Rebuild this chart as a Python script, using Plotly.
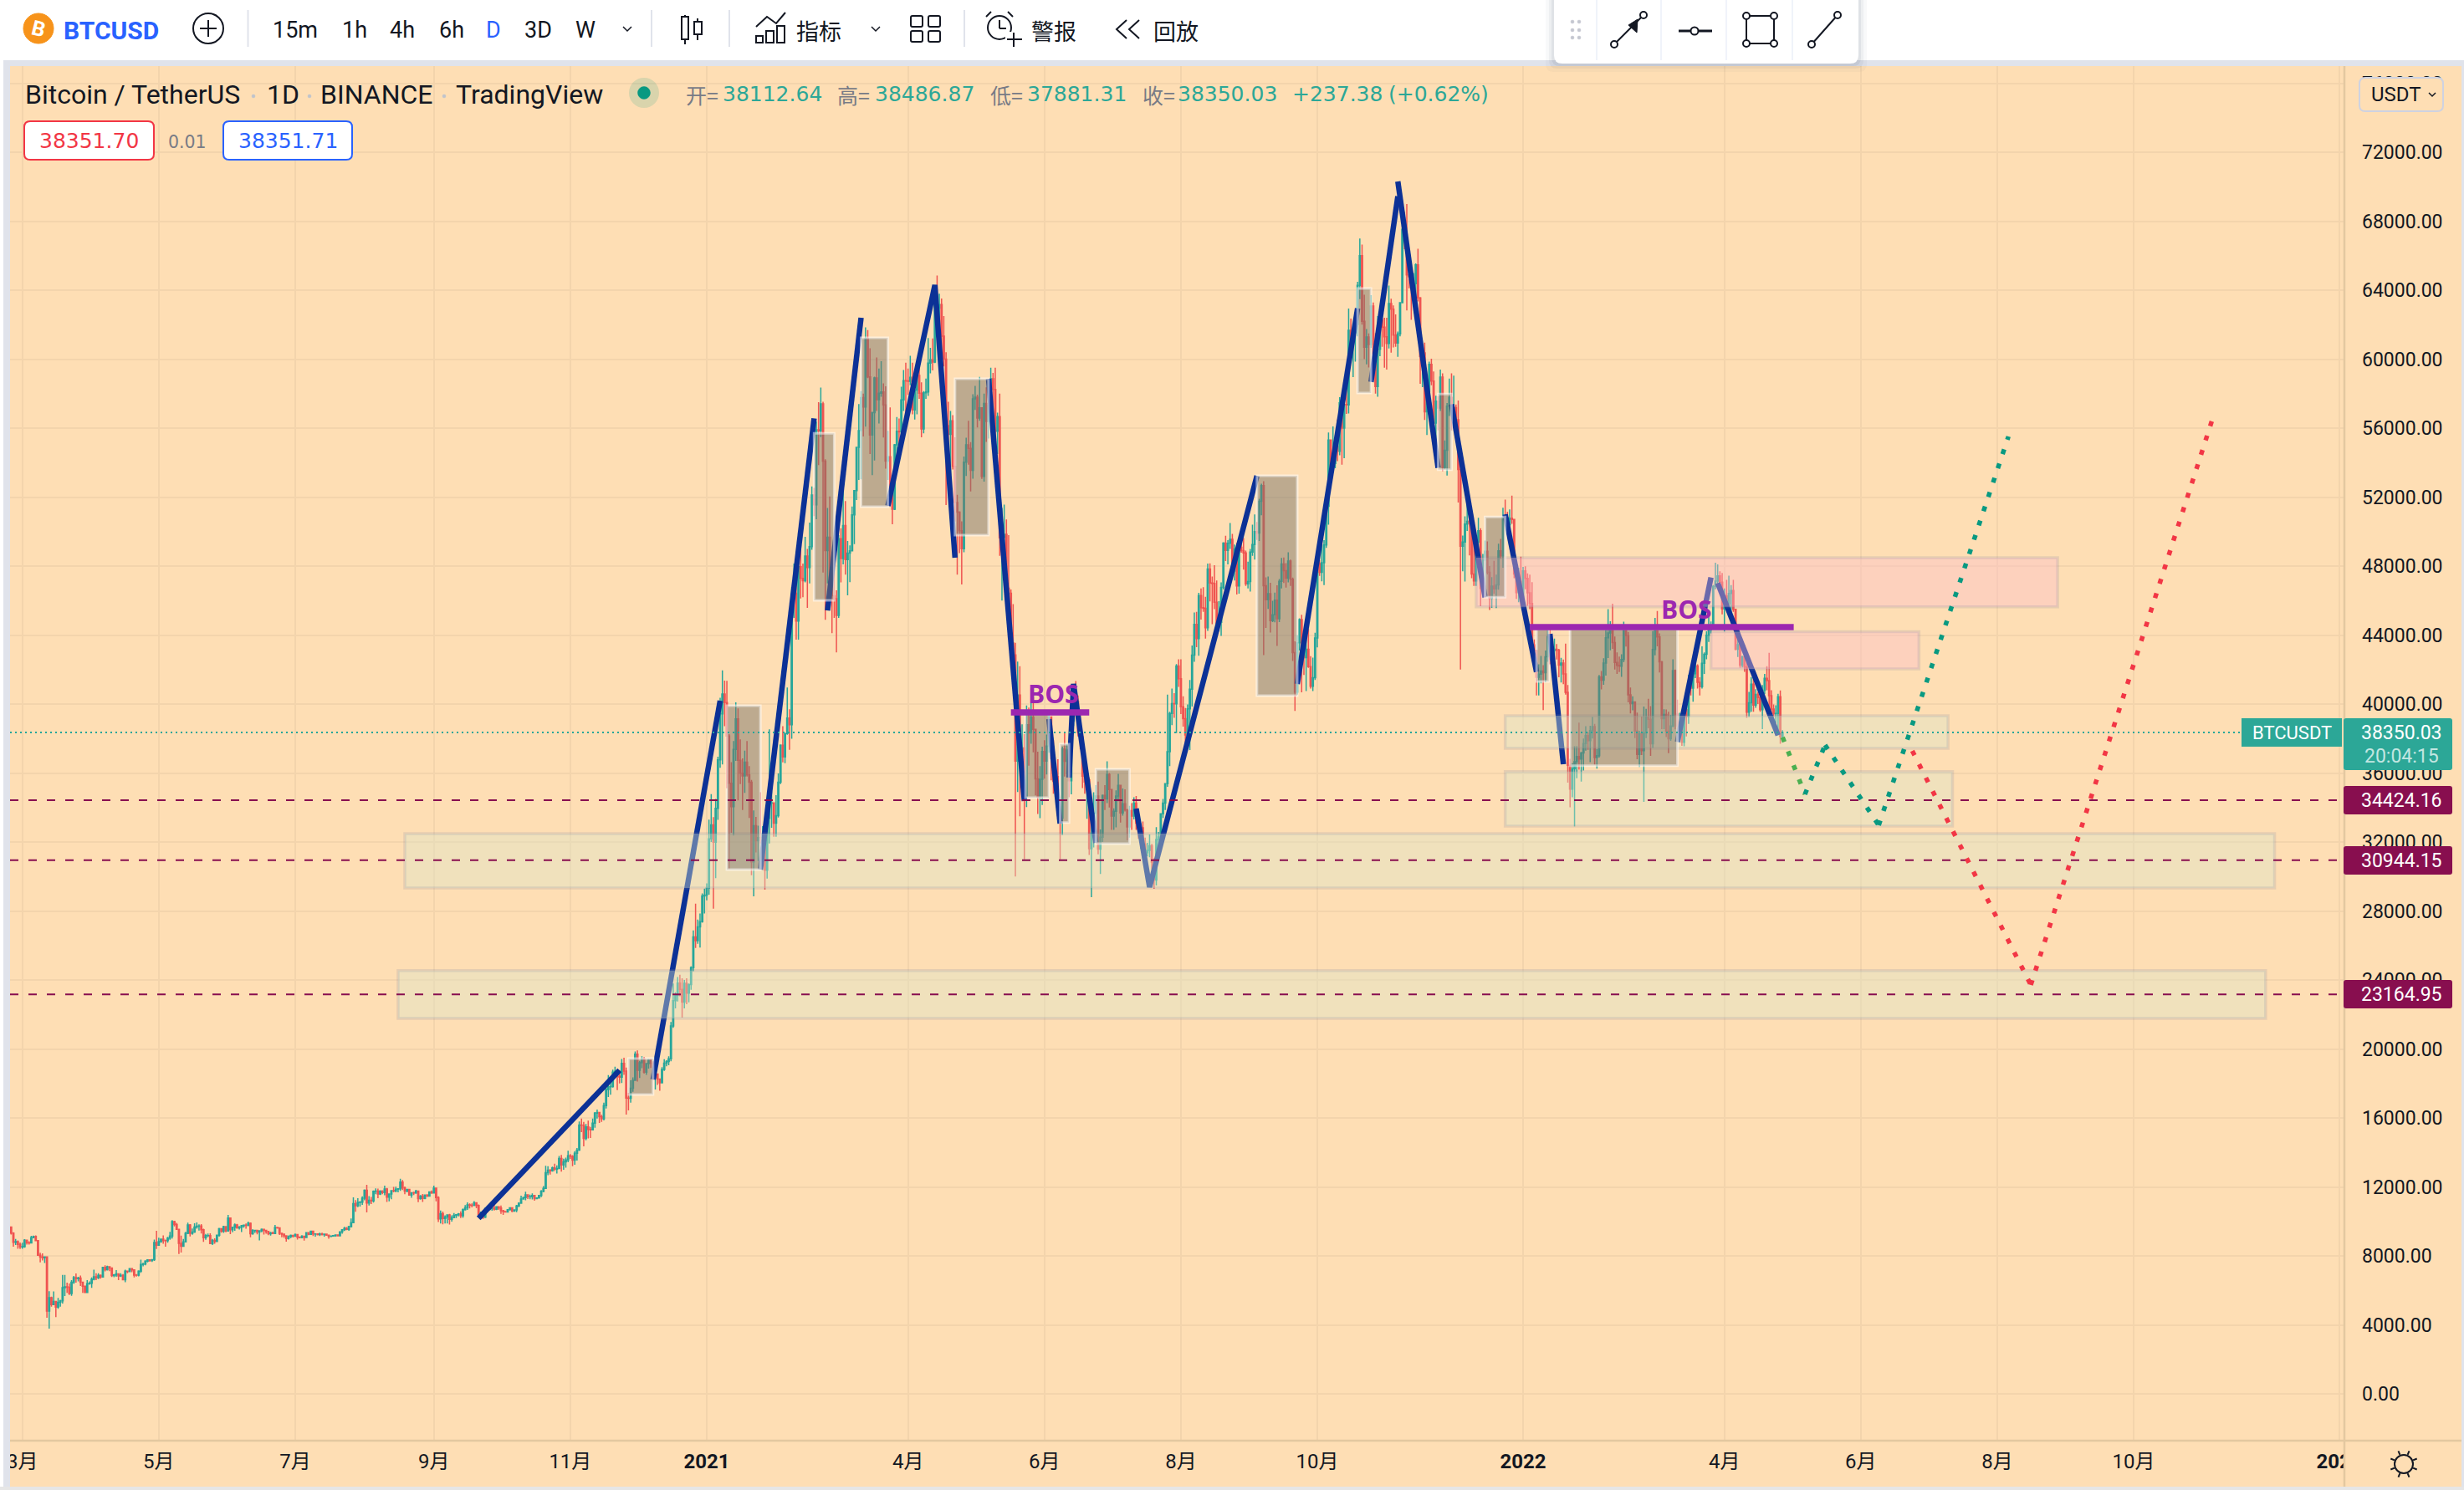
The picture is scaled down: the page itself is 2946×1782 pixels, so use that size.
import math
import pandas as pd
import plotly.graph_objects as go

W, H = 2946, 1782
first_day = "2020-02-25"
first_open = 9667

closes = [
    9316, 8785, 8824, 8672, 8523,
    8531, 8915, 8760, 8750, 9054, 9131, 8886, 8034, 7935, 7895, 7934, 4800, 5576, 5172, 5361, 5028, 5312, 5393, 6162, 6206, 6186, 5816, 6467, 6744, 6681, 6716, 6469, 6242, 5876, 6394, 6410,
    6642, 6794, 6733, 6868, 6772, 7339, 7201, 7370, 7298, 6865, 6893, 6959, 6838, 6870, 6623, 7116, 7096, 7257, 7189, 6881, 6880, 7118, 7500, 7539, 7694, 7774, 7738, 7780, 8775, 8620,
    8826, 8973, 8889, 8885, 9032, 9150, 9987, 9813, 9543, 8723, 8562, 8810, 9310, 9790, 9312, 9381, 9670, 9727, 9730, 9519, 9060, 9171, 9179, 8720, 8900, 8841, 9204, 9576, 9427, 9697, 9448,
    10200, 9518, 9666, 9789, 9621, 9666, 9746, 9782, 9772, 9885, 9280, 9465, 9474, 9386, 9454, 9538, 9480, 9411, 9288, 9332, 9303, 9648, 9629, 9313, 9264, 9162, 9012, 9116, 9192, 9138,
    9232, 9086, 9058, 9135, 9069, 9345, 9253, 9428, 9277, 9278, 9240, 9276, 9239, 9255, 9197, 9133, 9154, 9170, 9208, 9160, 9391, 9518, 9603, 9538, 9700, 9931, 11029, 10906, 11100, 11110, 11351,
    11801, 11071, 11219, 11191, 11744, 11762, 11594, 11754, 11675, 11878, 11410, 11584, 11780, 11768, 11865, 11892, 12280, 11945, 11754, 11853, 11531, 11662, 11648, 11753, 11318, 11461, 11330, 11527, 11465, 11711, 11650,
    11924, 11388, 10140, 10446, 10166, 10256, 10373, 10126, 10222, 10350, 10392, 10442, 10324, 10680, 10786, 10954, 10939, 10933, 11080, 10920, 10417, 10529, 10241, 10737, 10692, 10739, 10775, 10709, 10844, 10777,
    10619, 10570, 10550, 10673, 10788, 10599, 10668, 10902, 11055, 11296, 11384, 11540, 11425, 11429, 11505, 11322, 11360, 11503, 11750, 11910, 12823, 12965, 12931, 13108, 13031, 13068, 13654, 13272, 13456, 13560, 13804,
    13764, 13550, 13950, 14133, 15590, 15579, 14818, 15475, 15329, 15310, 15701, 16276, 16317, 16068, 15957, 16716, 17645, 17804, 17818, 18655, 18703, 18414, 18368, 19160, 18719, 17150, 17139, 17719, 18185, 19696,
    18764, 19204, 19421, 18650, 19147, 19359, 19166, 18324, 18541, 18254, 18036, 18808, 19175, 19273, 19427, 21335, 22797, 23107, 23821, 23455, 22719, 23810, 23232, 23729, 24712, 26493, 26281, 27079, 27385, 28875, 28923,
    29331, 32178, 33000, 31988, 33949, 36769, 39432, 40582, 40088, 38150, 35404, 34051, 37371, 39144, 36742, 35994, 35828, 36631, 35891, 35468, 30850, 32945, 32078, 32259, 32254, 32467, 30366, 33364, 34252, 34262, 33092,
    33526, 35466, 37618, 36936, 38290, 39186, 38795, 46374, 46420, 44807, 47969, 47287, 47153, 48577, 47911, 49133, 52119, 51552, 55906, 55841, 57408, 54087, 48892, 49676, 47073, 46276, 46106, 45135,
    49587, 48440, 50349, 48374, 48751, 48882, 50971, 52375, 54884, 55851, 57773, 57221, 61188, 58968, 55605, 56900, 58912, 57648, 58030, 58102, 57351, 54083, 54340, 52303, 51293, 55025, 55817, 55777, 57635, 58746, 58740,
    58720, 58950, 57059, 58206, 59054, 58020, 55947, 58048, 58102, 59774, 59964, 59834, 63577, 62959, 63159, 61334, 60006, 56150, 55633, 56425, 53787, 51690, 51125, 50047, 49004, 54021, 55033, 54824, 53555, 57697,
    57797, 56578, 57170, 53205, 57436, 56393, 57314, 58862, 58240, 55816, 56670, 49631, 49670, 49841, 46720, 46426, 43538, 42849, 36691, 40526, 37252, 37449, 34655, 38796, 38324, 39241, 38529, 35663, 34605, 35641, 37253,
    36693, 37568, 39246, 36829, 35513, 35796, 33552, 33380, 37388, 36675, 37331, 35546, 39020, 40516, 40144, 38349, 38092, 35820, 35483, 35600, 31608, 32509, 33678, 34663, 31584, 32283, 34700, 34494, 35911, 35045,
    33504, 33786, 34669, 35287, 33690, 34220, 33862, 32875, 33815, 33502, 34259, 33086, 32729, 32820, 31880, 31383, 31521, 31778, 30839, 29790, 32144, 32287, 33634, 34258, 35381, 37237, 39457, 40019, 40016, 42206, 41461,
    39845, 39147, 38207, 39723, 40862, 42836, 44614, 43792, 46285, 45593, 45555, 44428, 47834, 47013, 46998, 45901, 44686, 44741, 46763, 49339, 48905, 49321, 49546, 47707, 48993, 46852, 49089, 48895, 48767, 46970, 47100,
    48810, 49246, 49999, 49915, 51756, 52663, 46864, 46049, 46395, 44842, 45173, 46025, 44940, 47111, 48121, 47737, 47299, 48292, 47241, 42986, 40694, 43555, 44894, 42840, 42696, 43170, 42171, 41026, 41522, 43825,
    48141, 47635, 48200, 49224, 51471, 55315, 53785, 53951, 54950, 54660, 57471, 56005, 57367, 57347, 61672, 60875, 61528, 62009, 64280, 66001, 62193, 60688, 61286, 60852, 63078, 60328, 58413, 60575, 62253, 61859, 61300,
    60911, 63219, 62896, 61395, 60937, 61470, 63273, 67525, 66947, 64882, 64774, 64122, 64380, 65466, 63557, 60161, 60368, 56942, 58119, 59697, 58730, 56289, 57569, 57159, 58960, 53726, 54721, 57274, 57776, 56950,
    57184, 56480, 53602, 49152, 49396, 50441, 50588, 50471, 47545, 47140, 49389, 50053, 46702, 48343, 48864, 47632, 46131, 46834, 46681, 46914, 48890, 48588, 50819, 50807, 50399, 50775, 50701, 47543, 46464, 47120, 46216,
    47722, 47286, 46446, 45833, 43432, 43097, 41547, 41734, 41912, 41821, 42735, 43920, 42591, 43099, 43177, 43114, 42250, 42375, 41744, 40680, 36445, 35071, 36244, 36660, 36958, 36810, 37161, 37712, 38166, 37881, 38466,
    38694, 36896, 37005, 41571, 41382, 42380, 43840, 44118, 44339, 43565, 42407, 42244, 42197, 42586, 44575, 43961, 40538, 40030, 40122, 38431, 37075, 38286, 37296, 38328, 39219, 39116, 37700, 43160,
    44421, 43892, 42454, 39148, 39398, 38420, 37988, 38730, 41941, 39422, 38730, 38807, 37777, 39671, 39280, 41114, 40917, 41757, 42201, 41262, 41002, 42364, 42882, 43991, 44313, 44511, 46827, 47122, 47434, 47067, 45510,
    46283, 45811, 46407, 46580, 45497, 43170, 43445, 42252, 42753, 42158, 39530, 40074, 41147, 39942, 40552, 40378, 39678, 40801, 41494, 41358, 40480, 39709, 39441, 39450, 40426, 38112, 38350.03,
]
highs = [
    9700, 9369, 8978, 8900, 8780,
    8760, 8975, 8900, 8850, 9168, 9170, 9184, 8893, 8177, 8150, 7980, 7960, 5950, 5640, 5940, 5368, 5560, 5450, 6900, 6900, 6450, 6400, 6600, 6840, 6980, 6790, 6860, 6510, 6250, 6600, 6525,
    6750, 7200, 7000, 6990, 6920, 7370, 7460, 7427, 7380, 7315, 6950, 7180, 6950, 6990, 6940, 7200, 7150, 7300, 7260, 7230, 6940, 7160, 7780, 7600, 7740, 7800, 7800, 7790, 8950, 9460,
    9060, 9010, 9190, 8950, 9100, 9400, 10067, 10040, 9915, 9575, 9170, 8980, 9390, 9930, 9845, 9585, 9890, 9940, 9830, 9840, 9570, 9270, 9300, 9310, 8980, 9020, 9225, 9625, 9605, 9740, 9700,
    10380, 10228, 9690, 9881, 9858, 9735, 9800, 9800, 9880, 9990, 9938, 9555, 9495, 9480, 9495, 9590, 9540, 9490, 9460, 9400, 9405, 9790, 9686, 9665, 9340, 9290, 9200, 9190, 9238, 9200,
    9295, 9270, 9125, 9195, 9145, 9375, 9380, 9470, 9450, 9315, 9295, 9345, 9340, 9280, 9275, 9215, 9185, 9210, 9230, 9225, 9430, 9540, 9680, 9670, 9740, 10170, 11390, 11240, 11350, 11170, 11450,
    11860, 12120, 11470, 11420, 11790, 11910, 11900, 11810, 11810, 12070, 11945, 11630, 11800, 12000, 12010, 11930, 12470, 12400, 12020, 11880, 11880, 11690, 11720, 11825, 11770, 11530, 11590, 11550, 11570, 11720, 11790,
    12070, 11950, 11450, 10630, 10565, 10355, 10410, 10440, 10350, 10480, 10415, 10480, 10580, 10755, 10940, 11100, 11040, 11040, 11180, 11050, 10980, 10575, 10540, 10800, 10760, 10770, 10800, 10950, 10860, 10850,
    10920, 10670, 10590, 10700, 10800, 10800, 10680, 10955, 11105, 11490, 11425, 11720, 11560, 11550, 11630, 11540, 11400, 11525, 11820, 12050, 13220, 13200, 13030, 13170, 13345, 13250, 13790, 13860, 13640, 13700, 14100,
    13900, 13840, 14070, 14260, 15800, 15965, 15770, 15650, 15840, 15480, 15960, 16340, 16480, 16350, 16180, 16880, 17860, 18480, 18190, 18800, 18970, 18750, 18770, 19420, 19490, 18920, 17460, 18180, 18350, 19860,
    19920, 19310, 19570, 19540, 19180, 19420, 19420, 19290, 18630, 18560, 18290, 18950, 19410, 19350, 19570, 21560, 23800, 23280, 24170, 24300, 24100, 24000, 24100, 23800, 24790, 26870, 28420, 27500, 27850, 29020, 29300,
    29600, 33300, 34780, 33440, 34500, 36940, 40365, 41950, 41360, 41350, 38260, 36630, 37850, 40100, 39750, 37950, 36850, 37300, 37850, 36400, 35600, 33830, 33450, 32950, 34880, 32920, 32550, 33790, 38530, 34930, 34290,
    34720, 35980, 37660, 38710, 38310, 40955, 39700, 46790, 48145, 47310, 48680, 48985, 48150, 49700, 49000, 50525, 52620, 52530, 56370, 57500, 58350, 57530, 54200, 51370, 52040, 48370, 48400, 46600,
    49790, 50200, 52640, 51770, 49450, 49200, 51450, 52400, 54900, 57390, 58150, 58000, 61845, 61680, 60630, 56940, 58980, 60100, 59450, 59880, 58590, 58430, 55840, 57200, 53230, 55080, 56640, 56560, 58400, 59370, 59800,
    59460, 60200, 59790, 58490, 59250, 59500, 58650, 58150, 58870, 61220, 60650, 61200, 63770, 64854, 63800, 63520, 62500, 60400, 57530, 57000, 56750, 55470, 52130, 51170, 50590, 54350, 55440, 56430, 55190, 57960,
    58450, 57940, 58970, 57200, 58000, 58360, 58650, 59500, 59200, 59500, 56900, 58000, 51370, 51560, 50700, 49800, 46640, 45800, 43550, 42460, 42200, 38830, 38250, 39920, 39790, 40900, 40400, 38200, 37240, 36400, 37530,
    37900, 38230, 39480, 39290, 37900, 36490, 36800, 34070, 37530, 38400, 37680, 37450, 39380, 41060, 41330, 40500, 39560, 38200, 36480, 36140, 35750, 33300, 34880, 35300, 35500, 32730, 34750, 35300, 36680, 36000,
    35050, 33950, 35000, 35950, 35290, 35100, 35050, 33920, 34100, 34260, 34600, 34670, 33340, 33100, 33190, 32250, 31950, 32440, 31890, 31060, 32860, 32580, 33650, 34500, 35400, 40550, 39550, 40900, 40630, 42320, 42600,
    42600, 40450, 39770, 39970, 41400, 43390, 45310, 45350, 46450, 46700, 46780, 46220, 48140, 48160, 47400, 48050, 47160, 45960, 47050, 49380, 49760, 49500, 50500, 49870, 49250, 49340, 49180, 49650, 49630, 48900, 48250,
    49000, 50400, 51000, 50560, 51900, 52780, 52920, 47340, 47400, 47030, 45990, 46460, 46880, 47250, 48470, 48500, 48170, 48800, 48370, 47330, 43640, 44000, 44970, 45180, 42970, 43920, 44350, 42780, 42690, 44130,
    48500, 48340, 49230, 49500, 51890, 55750, 55340, 56100, 55450, 56500, 57800, 57680, 57700, 58550, 62930, 62350, 61720, 62700, 64490, 67000, 66640, 63730, 61750, 61490, 63710, 63290, 61500, 62500, 62960, 62370, 62400,
    62400, 64270, 63500, 63120, 62600, 61600, 63290, 67790, 68530, 69000, 65570, 65450, 65000, 65550, 66400, 63600, 60800, 60960, 58370, 59850, 60030, 59290, 57880, 57850, 59400, 59170, 55280, 57450, 58870, 59170,
    59040, 57370, 57600, 53870, 49770, 50880, 51950, 51200, 50800, 50080, 49480, 50800, 50200, 48700, 49480, 49430, 48000, 47360, 48300, 47500, 49300, 49570, 51380, 51860, 51150, 51280, 52090, 50700, 48130, 47900, 48550,
    47950, 47990, 47570, 47500, 47070, 43750, 43150, 42300, 42790, 42250, 43100, 44280, 44450, 43450, 43800, 43480, 43200, 42680, 42580, 43500, 41100, 36830, 36570, 37550, 37550, 38920, 37220, 38000, 38720, 38360, 38740,
    39250, 38850, 37390, 41690, 41910, 42660, 44500, 45500, 44800, 45820, 43920, 43000, 42750, 42880, 44770, 44580, 44180, 40960, 40450, 40150, 39500, 38450, 39270, 39850, 39720, 40300, 39880, 44230,
    45000, 45400, 44100, 42500, 39700, 39680, 39550, 39360, 42600, 42000, 40250, 39490, 39300, 39930, 39870, 41700, 41480, 42320, 42400, 42300, 41550, 43350, 43000, 44220, 45100, 44790, 46900, 48190, 48100, 47700, 47600,
    46700, 47200, 47440, 46900, 47200, 45500, 43900, 43970, 42800, 43420, 42420, 40700, 41560, 41500, 40860, 40700, 40600, 41100, 41750, 42200, 42970, 40800, 39980, 39930, 40600, 40790, 38486.87,
]
lows = [
    9240, 8535, 8625, 8416, 8400,
    8410, 8470, 8650, 8660, 8750, 9020, 8850, 8000, 7630, 7730, 7590, 4410, 3782, 5055, 5140, 4444, 4930, 5060, 5240, 5670, 5860, 5730, 5690, 6375, 6450, 6520, 6250, 5860, 5870, 5855, 6330,
    6150, 6580, 6600, 6660, 6680, 6770, 7100, 7150, 7110, 6780, 6760, 6790, 6600, 6780, 6600, 6470, 6990, 7050, 7050, 6750, 6800, 6810, 7020, 7390, 7450, 7620, 7660, 7650, 7710, 8400,
    8620, 8760, 8700, 8530, 8760, 8930, 9010, 9710, 9520, 8107, 8200, 8520, 8800, 9260, 9130, 9220, 9330, 9570, 9470, 9300, 8815, 8930, 9090, 8700, 8630, 8700, 8810, 9110, 9340, 9335, 9375,
    9417, 9266, 9365, 9450, 9580, 9525, 9380, 9640, 9570, 9725, 9075, 9230, 9330, 9245, 8900, 9370, 9240, 9280, 9200, 9170, 9280, 9288, 9570, 9210, 9080, 9040, 8830, 8940, 9030, 9065,
    9100, 8940, 9040, 9050, 8890, 9060, 9200, 9225, 9150, 9120, 9190, 9155, 9190, 9120, 9160, 9000, 9090, 9135, 9120, 9130, 9150, 9280, 9440, 9490, 9460, 9650, 9900, 10560, 10820, 10860, 10960,
    11220, 10520, 10925, 11010, 11090, 11580, 11350, 11525, 11570, 11515, 11125, 11160, 11280, 11680, 11685, 11690, 11770, 11820, 11570, 11680, 11500, 11375, 11525, 11595, 11115, 11260, 11130, 11280, 11420, 11455, 11600,
    11625, 11160, 9960, 9875, 9825, 9875, 9880, 9820, 9990, 10190, 10200, 10290, 10200, 10210, 10630, 10670, 10750, 10810, 10890, 10760, 10280, 10360, 10140, 10190, 10530, 10650, 10620, 10630, 10650, 10670,
    10440, 10370, 10520, 10525, 10630, 10530, 10565, 10530, 10830, 11050, 11280, 11220, 11300, 11280, 11270, 11200, 11280, 11340, 11410, 11690, 11890, 12680, 12720, 12880, 12920, 12780, 13060, 12890, 12990, 13120, 13430,
    13620, 13200, 13290, 13530, 14090, 15170, 14350, 14700, 14810, 14840, 15280, 15430, 15960, 15710, 15770, 15860, 16550, 17210, 17340, 17760, 18320, 17610, 18000, 18020, 18500, 16200, 16440, 16880, 17520, 18170,
    18110, 18320, 18890, 18570, 18500, 18860, 18900, 18200, 17650, 17910, 17570, 18020, 18730, 19000, 19050, 19290, 21230, 22350, 22750, 23060, 21820, 22350, 22600, 22700, 23430, 24500, 25860, 26100, 25880, 27320, 27850,
    28620, 28950, 32000, 28130, 29900, 33290, 36300, 36500, 38720, 35110, 30420, 32530, 32380, 36700, 34410, 35360, 33850, 34850, 35800, 33400, 30070, 28850, 31390, 30900, 31910, 30840, 29240, 29880, 31915, 32825, 32300,
    32300, 33420, 35360, 36620, 36570, 38220, 37350, 37990, 45000, 43730, 43730, 46125, 46200, 47050, 45570, 47000, 48950, 50900, 50710, 53860, 55480, 47620, 44890, 47000, 46670, 44110, 45000, 43000,
    45000, 47050, 48100, 47500, 46300, 47070, 48880, 49270, 51830, 53000, 53025, 55510, 56080, 58900, 54500, 53270, 54120, 57000, 56270, 57820, 55450, 53650, 53000, 51700, 50430, 51250, 53960, 54700, 54900, 57000, 56870,
    57930, 58480, 56800, 56500, 56800, 57700, 55470, 55700, 57700, 57870, 59170, 59350, 59770, 61300, 62020, 60000, 59580, 51540, 54220, 53300, 53600, 50580, 47500, 48750, 46930, 48800, 53220, 53880, 52330, 53070,
    57050, 56040, 56430, 53060, 52900, 55200, 55390, 56900, 56240, 54570, 54500, 48600, 46000, 48900, 46550, 43830, 42100, 42200, 30000, 34900, 33490, 35200, 31000, 34030, 36420, 37700, 37200, 34700, 33630, 33380, 34150,
    35670, 35920, 37170, 35570, 34800, 35230, 33340, 31000, 32400, 35800, 35940, 34600, 34760, 38730, 39500, 38120, 37365, 35130, 34800, 33350, 31250, 28805, 31680, 32280, 31280, 30150, 32000, 33860, 34250, 34000,
    32700, 32700, 32850, 34360, 33130, 33530, 33770, 32100, 32260, 32700, 33310, 32700, 32200, 31600, 31130, 31020, 31160, 31110, 30410, 29280, 29480, 31710, 31930, 33400, 33850, 35200, 36400, 38770, 39200, 38320, 41000,
    39420, 38690, 37640, 37510, 37330, 39850, 42450, 43300, 42800, 44900, 45350, 43800, 44240, 45950, 44630, 45500, 44370, 44210, 43950, 46640, 48290, 48100, 49000, 47600, 47160, 46350, 46400, 48780, 47800, 46850, 46700,
    46520, 48600, 48380, 49520, 49450, 50950, 42840, 44410, 45510, 44140, 44750, 44740, 43370, 44750, 46700, 47020, 46750, 47050, 46850, 42500, 39600, 40550, 43100, 40680, 41680, 40750, 42100, 40900, 40750, 41400,
    43280, 47430, 47120, 46900, 49050, 50400, 53360, 53620, 53670, 54090, 54420, 53880, 54250, 56820, 56850, 60150, 58960, 59850, 61320, 63480, 62000, 60000, 59700, 59520, 60650, 59820, 58000, 57820, 60170, 60720, 59500,
    59400, 60620, 60380, 60680, 60720, 60130, 61320, 63270, 66380, 62820, 64100, 62280, 63360, 63580, 63350, 58570, 58370, 56470, 55600, 57350, 58480, 55600, 55320, 55880, 57000, 53500, 53610, 53250, 56700, 55870,
    56460, 55830, 51680, 42000, 47700, 47100, 50040, 48620, 47300, 46850, 46850, 48640, 45670, 46280, 46550, 47520, 45460, 45580, 46400, 45560, 46630, 48420, 47900, 50450, 50180, 49450, 50450, 47300, 46100, 45900, 45680,
    46200, 46650, 45700, 45500, 42500, 42430, 40500, 40500, 41200, 39650, 41270, 42450, 42300, 41720, 42570, 42580, 41550, 41250, 41150, 40550, 35440, 34010, 34600, 32910, 35700, 36200, 35500, 36150, 37300, 37350, 36630,
    38000, 36480, 36250, 36900, 40850, 41120, 41650, 42670, 43120, 43200, 42000, 41750, 41850, 41570, 42430, 43330, 40100, 39450, 39640, 38020, 36800, 36350, 37040, 34330, 38020, 38600, 37000, 37450,
    42830, 43340, 41830, 38550, 38550, 38090, 37150, 37870, 38650, 38530, 38220, 38660, 37580, 37550, 38120, 38850, 40500, 40130, 41500, 40900, 40500, 40900, 41750, 42590, 43600, 44100, 44420, 46650, 46950, 46600, 45200,
    44210, 45620, 45520, 45100, 45350, 43120, 42730, 42110, 42120, 41870, 39200, 39250, 39550, 39550, 39780, 40000, 39550, 38540, 40570, 40800, 39760, 39180, 39290, 38900, 38200, 37700, 37881.31,
]

price_ticks = [0, 4000, 8000, 12000, 16000, 20000, 24000, 28000, 32000, 36000, 40000, 44000, 48000,
               52000, 56000, 60000, 64000, 68000, 72000, 76000]
month_ticks = ["2020-03-01", "2020-05-01", "2020-07-01", "2020-09-01", "2020-11-01", "2021-01-01",
               "2021-04-01", "2021-06-01", "2021-08-01", "2021-10-01", "2022-01-01", "2022-04-01",
               "2022-06-01", "2022-08-01", "2022-10-01", "2023-01-01"]
month_labels = ["3月", "5月", "7月", "9月", "11月", "<b>2021</b>", "4月", "6月", "8月", "10月",
                "<b>2022</b>", "4月", "6月", "8月", "10月", "<b>2023</b>"]

# blue swing legs, None breaks the line between legs
swing_dates = ["2020-09-21", "2020-11-23", None, "2020-12-08", "2021-01-07", None, "2021-01-25", "2021-02-18", None,
               "2021-02-24", "2021-03-11", None, "2021-03-23", "2021-04-13", "2021-04-22", None,
               "2021-05-07", "2021-05-23", None, "2021-06-03", "2021-06-08", None,
               "2021-06-12", "2021-06-14", "2021-06-24", None, "2021-07-12", "2021-07-18", "2021-09-04", None,
               "2021-09-22", "2021-10-19", None, "2021-10-25", "2021-11-06", None, "2021-11-06", "2021-11-24", None,
               "2021-11-30", "2021-12-15", None, "2021-12-24", "2022-01-07", None,
               "2022-01-13", "2022-01-19", None, "2022-03-11", "2022-03-26", None, "2022-03-29", "2022-04-25"]
swing_prices = [10182, 18764, None, 18230, 40194, None, 30400, 56558, None,
                45430, 62400, None, 51490, 64300, 48485, None,
                58860, 34376, None, 39127, 33067, None,
                35733, 41164, 31952, None, 33939, 29382, 53236, None,
                41164, 62945, None, 58680, 69440, None, 70300, 53700, None,
                57380, 46190, None, 51000, 41860, None,
                44070, 36510, None, 37800, 47340, None, 47010, 38190]

# tan consolidation boxes
box_starts = ["2020-11-27", "2021-01-10", "2021-02-18", "2021-03-11", "2021-04-22", "2021-05-23 12:00", "2021-06-08",
              "2021-06-24", "2021-09-04", "2021-10-19", "2021-11-24", "2021-12-15", "2022-01-07", "2022-01-22"]
box_ends = ["2020-12-08", "2021-01-25", "2021-02-27", "2021-03-23", "2021-05-07", "2021-06-03", "2021-06-12",
            "2021-07-09", "2021-09-22", "2021-10-25", "2021-11-30", "2021-12-24", "2022-01-12 12:00", "2022-03-11"]
box_tops = [19442, 39900, 55700, 61240, 58860, 39500, 37670, 36220, 53240, 64100, 57970, 50850, 44360, 44360]
box_bottoms = [17358, 30400, 46010, 51440, 49790, 34570, 33130, 31900, 40480, 58040, 53590, 46190, 41310, 36430]

# pale demand zones
zone_starts = ["2020-08-19", "2020-08-16", "2021-12-24", "2021-12-24"]
zone_ends = ["2022-12-03", "2022-11-29", "2022-07-10", "2022-07-12"]
zone_tops = [32485, 24550, 39320, 36090]
zone_bottoms = [29333, 21770, 37430, 32920]

# pink supply zones
supply_starts = ["2021-12-11", "2022-03-26"]
supply_ends = ["2022-08-28", "2022-06-27"]
supply_tops = [48485, 44200]
supply_bottoms = [45640, 42040]

bos_starts = ["2021-05-17", "2022-01-04"]
bos_ends = ["2021-06-21", "2022-05-02"]
bos_levels = [39515, 44460]
bos_label_dates = ["2021-06-05", "2022-03-15"]
bos_label_prices = [40630, 45480]

alert_levels = [34424.16, 30944.15, 23164.95]

green_dates = ["2022-04-27", "2022-05-07"]
green_prices = [38075, 34764]
teal_dates = ["2022-05-07", "2022-05-16", "2022-06-09", "2022-08-06"]
teal_prices = [34764, 37625, 32970, 55515]
red_dates = ["2022-06-24", "2022-08-16", "2022-11-05"]
red_prices = [37285, 23710, 56440]

FONT = "Roboto, Liberation Sans, sans-serif"
CJK = "Noto Sans CJK SC"
MONO = "DejaVu Sans"
INK = "#131722"
BG = "#FEDEB4"
GRID = "#F3D4AC"
EDGE = "#E3C8A0"
BAND = "#E0E3EB"
UP = "#26A69A"
DOWN = "#EF5350"
MAROON = "#880E4F"
PURPLE = "#9C27B0"
BLUE = "#0C3196"
LABEL_TEAL = "#2CA797"


def fx(x):
    return x / W


def fy(y):
    return 1 - y / H


shapes = []
notes = []


def rect(x0, y0, x1, y1, fill, line=None, width=0):
    shapes.append(dict(type="rect", xref="paper", yref="paper", x0=fx(x0), y0=fy(y0), x1=fx(x1), y1=fy(y1),
                       fillcolor=fill, line=dict(color=line or "rgba(0,0,0,0)", width=width), layer="above"))


def rrect(x0, y0, x1, y1, r, fill, line=None, width=0):
    p = (f"M {fx(x0+r)} {fy(y0)} L {fx(x1-r)} {fy(y0)} Q {fx(x1)} {fy(y0)} {fx(x1)} {fy(y0+r)} "
         f"L {fx(x1)} {fy(y1-r)} Q {fx(x1)} {fy(y1)} {fx(x1-r)} {fy(y1)} L {fx(x0+r)} {fy(y1)} "
         f"Q {fx(x0)} {fy(y1)} {fx(x0)} {fy(y1-r)} L {fx(x0)} {fy(y0+r)} Q {fx(x0)} {fy(y0)} {fx(x0+r)} {fy(y0)} Z")
    shapes.append(dict(type="path", xref="paper", yref="paper", path=p, fillcolor=fill,
                       line=dict(color=line or "rgba(0,0,0,0)", width=width), layer="above"))


def seg(x0, y0, x1, y1, color=INK, width=2):
    shapes.append(dict(type="line", xref="paper", yref="paper", x0=fx(x0), y0=fy(y0), x1=fx(x1), y1=fy(y1),
                       line=dict(color=color, width=width), layer="above"))


def poly(points, color=INK, width=2, fill=None):
    p = "M " + " L ".join(f"{fx(a)} {fy(b)}" for a, b in points)
    if fill:
        p += " Z"
    shapes.append(dict(type="path", xref="paper", yref="paper", path=p, fillcolor=fill or "rgba(0,0,0,0)",
                       line=dict(color=color, width=width), layer="above"))


def dot(cx, cy, r, fill="rgba(0,0,0,0)", line=INK, width=2):
    shapes.append(dict(type="circle", xref="paper", yref="paper", x0=fx(cx-r), y0=fy(cy-r), x1=fx(cx+r), y1=fy(cy+r),
                       fillcolor=fill, line=dict(color=line, width=width), layer="above"))


def note(x, y, text, size, color=INK, family=FONT, anchor="left", angle=0):
    notes.append(dict(xref="paper", yref="paper", x=fx(x), y=fy(y), text=text, showarrow=False, xanchor=anchor,
                      yanchor="middle", align=anchor, textangle=angle, borderpad=0, borderwidth=0,
                      font=dict(size=size, color=color, family=family)))


# zones and boxes sit over the candles and the blue legs
for s, e, t, b in zip(zone_starts, zone_ends, zone_tops, zone_bottoms):
    shapes.append(dict(type="rect", xref="x", yref="y", x0=s, x1=e, y0=b, y1=t, fillcolor="rgba(219,230,199,0.4)",
                       line=dict(color="rgba(120,130,160,0.18)", width=3.5), layer="above"))
for s, e, t, b in zip(supply_starts, supply_ends, supply_tops, supply_bottoms):
    shapes.append(dict(type="rect", xref="x", yref="y", x0=s, x1=e, y0=b, y1=t, fillcolor="rgba(252,190,202,0.4)",
                       line=dict(color="rgba(120,130,160,0.18)", width=3.5), layer="above"))
for s, e, t, b in zip(box_starts, box_ends, box_tops, box_bottoms):
    shapes.append(dict(type="rect", xref="x", yref="y", x0=s, x1=e, y0=b, y1=t, fillcolor="rgba(124,118,105,0.5)",
                       line=dict(color="rgba(255,255,255,0.5)", width=3), layer="above"))
for s, e, v in zip(bos_starts, bos_ends, bos_levels):
    shapes.append(dict(type="line", xref="x", yref="y", x0=s, x1=e, y0=v, y1=v,
                       line=dict(color=PURPLE, width=7.5), layer="above"))
for v in alert_levels:
    shapes.append(dict(type="line", xref="paper", yref="y", x0=fx(12), x1=fx(2797), y0=v, y1=v,
                       line=dict(color=MAROON, width=2, dash="10px,12px"), layer="above"))
shapes.append(dict(type="line", xref="paper", yref="y", x0=fx(12), x1=fx(2680), y0=closes[-1], y1=closes[-1],
                   line=dict(color=UP, width=2, dash="2px,4px"), layer="above"))
for dates, prices, color in [(green_dates, green_prices, "#4CAF50"), (teal_dates, teal_prices, "#089981"),
                             (red_dates, red_prices, "#F23645")]:
    for i in range(len(dates) - 1):
        shapes.append(dict(type="line", xref="x", yref="y", x0=dates[i], x1=dates[i+1], y0=prices[i], y1=prices[i+1],
                           line=dict(color=color, width=5.5, dash="6px,12px"), layer="above"))

# page frame
rect(0, 0, W, 72, "#FFFFFF")
rect(0, 72, W, 79, BAND)
rect(0, 0, 4, H, "#FFFFFF")
rect(4, 72, 12, H, BAND)
rect(2943, 72, W, H, BAND)
rect(0, 1778, W, H, "#E6E6E6")
rect(2804, 1724, 2943, 1778, BG)
seg(2803, 79, 2803, 1778, EDGE, 2.5)
seg(12, 1723, 2943, 1723, EDGE, 2.5)

# top bar
dot(46, 34, 18, "#F7931A", "#F7931A", 1)
note(46, 35, "<b>B</b>", 25, "#FFFFFF", FONT, "center", 14)
note(76, 36, "<b>BTCUSD</b>", 30, "#2962FF", FONT)
dot(249, 34, 18)
seg(239, 34, 259, 34)
seg(249, 24, 249, 44)
for x in [296.5, 779, 872, 1153]:
    seg(x, 12, x, 56, BAND, 2)
for x, t in [(353, "15m"), (424, "1h"), (481, "4h"), (540, "6h"), (643, "3D"), (700, "W")]:
    note(x, 36, t, 27, INK, FONT, "center")
note(590, 36, "D", 27, "#2962FF", FONT, "center")
for x in [750, 1047]:
    poly([(x-5, 32), (x, 37), (x+5, 32)], INK, 1.5)
seg(819, 18, 819, 53)
rect(815, 20, 823, 47, "#FFFFFF", INK, 2)
seg(834, 22, 834, 48)
rect(830, 26, 839, 41, "#FFFFFF", INK, 2)
poly([(904, 32), (917, 20), (928, 28), (939, 15)])
rect(904, 43, 912, 51, "#FFFFFF", INK, 2)
rect(916, 37, 925, 51, "#FFFFFF", INK, 2)
rect(929, 31, 938, 51, "#FFFFFF", INK, 2)
note(979, 36, "指标", 27, INK, CJK, "center")
for a, b in [(1089, 19), (1110, 19), (1089, 37), (1110, 37)]:
    rrect(a, b, a+14, b+13, 2, "#FFFFFF", INK, 2)
dot(1195, 33, 14)
seg(1195, 24, 1195, 34)
seg(1195, 34, 1203, 34)
seg(1185, 14, 1179, 20)
seg(1205, 14, 1211, 20)
rect(1202, 38, 1222, 58, "#FFFFFF")
seg(1204, 47, 1222, 47)
seg(1212, 39, 1212, 56)
note(1260, 36, "警报", 27, INK, CJK, "center")
poly([(1347, 24), (1335, 35), (1347, 46)])
poly([(1362, 24), (1350, 35), (1362, 46)])
note(1406, 36, "回放", 27, INK, CJK, "center")

# floating drawing toolbar
for grow, alpha in [(10, 0.03), (6, 0.05), (3, 0.07)]:
    rrect(1858-grow, -10, 2222+grow, 76+grow, 10, f"rgba(40,50,80,{alpha})")
rrect(1858, -10, 2222, 76, 10, "#FFFFFF")
for x in [1909, 1986, 2064, 2143]:
    seg(x, 0, x, 72, "#F0F3FA", 2)
for a in [1880, 1888]:
    for b in [26, 36, 45]:
        dot(a, b, 2, "#C4C7D0", "#C4C7D0", 0.5)
seg(1930, 53, 1965, 18)
poly([(1947, 30), (1958, 23), (1957, 39)], INK, 1, INK)
dot(1930, 53, 4, "#FFFFFF")
dot(1965, 18, 4, "#FFFFFF")
seg(2007, 37, 2047, 37, INK, 3)
dot(2026, 37, 4.5, "#FFFFFF")
rect(2088, 19, 2121, 52, "#FFFFFF", INK, 2)
for a in [2088, 2121]:
    for b in [19, 52]:
        dot(a, b, 4, "#FFFFFF")
seg(2166, 53, 2197, 18)
dot(2166, 53, 4, "#FFFFFF")
dot(2197, 18, 4, "#FFFFFF")

# legend row
note(30, 113, "Bitcoin / TetherUS", 32, INK, FONT)
note(319, 113, "1D", 32, INK, FONT)
note(383, 113, "BINANCE", 32, INK, FONT)
note(545, 113, "TradingView", 32, INK, FONT)
for x in [303, 370, 531]:
    dot(x, 115, 2, "#BFC3CC", "#BFC3CC", 0.5)
dot(770, 111, 18, "rgba(8,153,129,0.15)", "rgba(0,0,0,0)", 0)
dot(770, 111, 7.5, "#089981", "#089981", 0.5)
for x, t in [(820, "开="), (1001, "高="), (1184, "低="), (1366, "收=")]:
    note(x, 113, t, 25, "#787B86", CJK)
for x, t in [(864, "38112.64"), (1046, "38486.87"), (1228, "37881.31"), (1408, "38350.03"),
             (1545, "+237.38"), (1660, "(+0.62%)")]:
    note(x, 113, t, 25, LABEL_TEAL, MONO)

# bid and ask chips
rrect(29, 145, 184, 191, 7, "#FFFFFF", "#F23645", 2)
note(106.5, 169, "38351.70", 25, "#F23645", MONO, "center")
note(224.5, 170, "0.01", 20.5, "#787B86", MONO, "center")
rrect(267, 145, 421, 191, 7, "#FFFFFF", "#2962FF", 2)
note(344, 169, "38351.71", 25, "#2962FF", MONO, "center")

# price scale tags
rrect(2821, 93, 2921, 133, 7, BG, "#CED2E1", 2)
note(2865, 113, "USDT", 24, INK, FONT, "center")
poly([(2904, 111), (2908, 115), (2912, 111)], INK, 1.5)
rect(2680, 859, 2800, 893, LABEL_TEAL)
note(2740, 876, "BTCUSDT", 22, "#FFFFFF", FONT, "center")
rrect(2802, 859, 2932, 921, 3, LABEL_TEAL)
note(2871, 876, f"{closes[-1]:.2f}", 23, "#FFFFFF", FONT, "center")
note(2871, 905, "20:04:15", 23, "#C3E6E1", FONT, "center")
for v, y in zip(alert_levels, [957, 1029, 1189]):
    rrect(2802, y-17, 2932, y+17, 3, MAROON)
    note(2871, y, f"{v:.2f}", 23, "#FFFFFF", FONT, "center")

# settings sun
dot(2874, 1751, 11)
for k in range(8):
    a = math.pi * k / 4 + math.pi / 8
    seg(2874 + 12*math.cos(a), 1751 + 12*math.sin(a), 2874 + 17*math.cos(a), 1751 + 17*math.sin(a))

for d, p in zip(bos_label_dates, bos_label_prices):
    notes.append(dict(xref="x", yref="y", x=d, y=p, text="<b>BOS</b>", showarrow=False, xanchor="center",
                      yanchor="middle", font=dict(size=30, color=PURPLE, family="Open Sans")))

opens = [first_open] + closes[:-1]
days = pd.date_range(first_day, periods=len(closes), freq="D")

fig = go.Figure()
fig.add_trace(go.Candlestick(x=days, open=opens, high=highs, low=lows, close=closes, whiskerwidth=0,
                             increasing=dict(line=dict(color=UP, width=1.5), fillcolor=UP),
                             decreasing=dict(line=dict(color=DOWN, width=1.5), fillcolor=DOWN),
                             hoverinfo="skip"))
fig.add_trace(go.Scatter(x=swing_dates, y=swing_prices, mode="lines", hoverinfo="skip",
                         line=dict(color=BLUE, width=6.5), connectgaps=False))

fig.update_layout(width=W, height=H, template="none", autosize=False, showlegend=False,
                  margin=dict(l=0, r=0, t=0, b=0), paper_bgcolor=BG, plot_bgcolor=BG,
                  shapes=shapes, annotations=notes,
                  xaxis=dict(domain=[12/W, 2803/W], type="date", range=["2020-02-24 12:00", "2023-01-03 05:00"],
                             rangeslider=dict(visible=False), tickmode="array", tickvals=month_ticks,
                             ticktext=month_labels, ticks="", showline=False, zeroline=False, automargin=False,
                             showgrid=True, gridcolor=GRID, gridwidth=2, ticklabelstandoff=8,
                             tickfont=dict(size=24, color=INK, family=FONT + ", " + CJK)),
                  yaxis=dict(domain=[1 - 1723/H, 1 - 79/H], range=[-2715, 76994], side="right", tickmode="array",
                             tickvals=price_ticks, tickformat=".2f", ticks="", showline=False, zeroline=False,
                             automargin=False, showgrid=True, gridcolor=GRID, gridwidth=2, ticklabelstandoff=20,
                             tickfont=dict(size=23, color=INK, family=FONT)))

fig.write_html("out.html", config=dict(displayModeBar=False),
               post_script="document.body.style.margin='0';document.body.style.overflow='hidden';")
